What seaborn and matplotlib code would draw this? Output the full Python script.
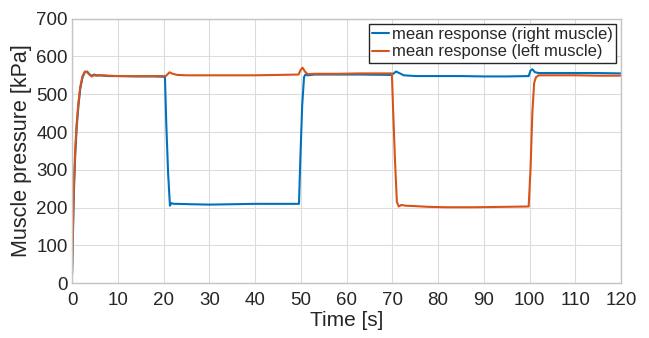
import pandas as pd
import matplotlib.pyplot as plt
import seaborn as sns

# Time points (s) and pressure (kPa)
t_right = [0, 0.2, 0.4, 0.7, 1.0, 1.4, 1.8, 2.3, 2.8, 3.3, 3.8, 4.3, 4.8, 5.3, 6, 8, 10, 14, 18, 20.3,
           20.6, 21.0, 21.4, 21.7, 22.2, 23, 26, 30, 35, 40, 45, 49.6,
           49.9, 50.3, 50.7, 51.0, 51.5, 53, 58, 63, 69.8,
           70.3, 70.8, 71.5, 72.5, 75, 80, 85, 90, 95, 99.8,
           100.2, 100.6, 101.2, 102, 105, 110, 115, 120]
p_right = [20, 130, 240, 340, 410, 470, 515, 545, 558, 560, 553, 548, 552, 550, 550, 548, 548, 547, 547, 546,
           420, 290, 205, 212, 210, 210, 209, 208, 209, 210, 210, 210,
           330, 470, 545, 552, 550, 552, 552, 552, 551,
           555, 560, 556, 550, 548, 548, 548, 547, 547, 548,
           562, 566, 558, 556, 556, 556, 556, 555]

t_left = [0, 0.2, 0.4, 0.7, 1.0, 1.4, 1.8, 2.3, 2.8, 3.3, 3.8, 4.3, 4.8, 5.3, 6, 8, 10, 14, 18, 20.5,
          21.3, 22, 23, 25, 30, 35, 40, 45, 49.5,
          50.0, 50.4, 50.9, 51.5, 53, 58, 63, 69.9,
          70.2, 70.6, 71.0, 71.4, 72, 73, 75, 78, 82, 88, 94, 99.8,
          100.2, 100.6, 101.0, 101.4, 102, 104, 110, 115, 120]
p_left = [25, 150, 260, 355, 420, 478, 520, 548, 560, 558, 552, 547, 550, 549, 550, 549, 548, 548, 548, 548,
          558, 554, 551, 550, 550, 550, 550, 551, 552,
          565, 570, 560, 553, 554, 554, 555, 555,
          450, 320, 215, 203, 207, 205, 204, 202, 201, 201, 202, 203,
          300, 450, 530, 545, 550, 550, 550, 549, 549]

right = pd.DataFrame({"time": t_right, "pressure": p_right})
left = pd.DataFrame({"time": t_left, "pressure": p_left})

sns.set_style("whitegrid")
plt.rcParams["font.family"] = ["Liberation Sans", "DejaVu Sans"]

fig, ax = plt.subplots(figsize=(6.49, 3.38), dpi=100)

sns.lineplot(data=right, x="time", y="pressure", color="#0072BD", linewidth=1.5,
             estimator=None, label="mean response (right muscle)", ax=ax)
sns.lineplot(data=left, x="time", y="pressure", color="#D95319", linewidth=1.5,
             estimator=None, label="mean response (left muscle)", ax=ax)

ax.set_xlim(0, 120)
ax.set_ylim(0, 700)
ax.set_xticks(range(0, 121, 10))
ax.set_yticks(range(0, 701, 100))
ax.tick_params(axis="both", labelsize=13.5, colors="#262626", length=3, direction="in")
ax.tick_params(axis="x", pad=6)
ax.tick_params(axis="y", pad=3)
ax.set_xlabel("Time [s]", fontsize=15, color="#262626", labelpad=2)
ax.set_ylabel("Muscle pressure [kPa]", fontsize=15.5, color="#262626", labelpad=3)

ax.grid(True, color="#dcdcdc", linewidth=0.8)
for side in ["left", "bottom", "top", "right"]:
    ax.spines[side].set_color("#c4c4c4")
    ax.spines[side].set_linewidth(1)

leg = ax.legend(loc="upper right", fontsize=12, frameon=True, fancybox=False,
                handlelength=1.0, handletextpad=0.2, borderpad=0.2, labelspacing=0.15,
                borderaxespad=0.3)
leg.get_frame().set_edgecolor("#262626")
leg.get_frame().set_linewidth(1)
leg.get_frame().set_alpha(1)

fig.subplots_adjust(left=0.111, right=0.957, top=0.945, bottom=0.162)
fig.savefig("out.png", dpi=100)
